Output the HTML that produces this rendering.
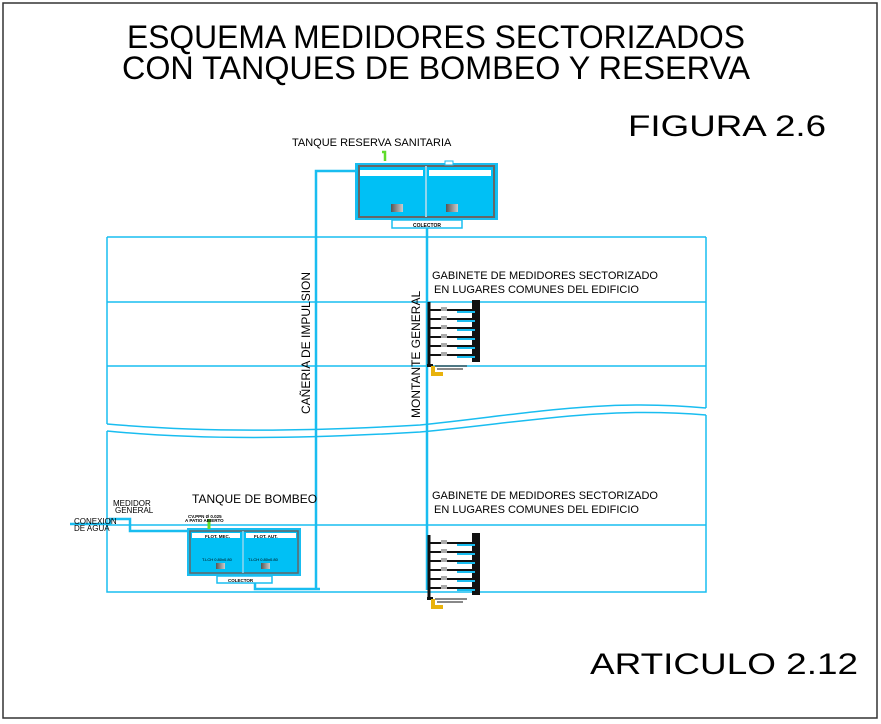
<!DOCTYPE html>
<html><head><meta charset="utf-8"><style>
html,body{margin:0;padding:0;background:#fff;}
svg{display:block;font-family:"Liberation Sans",sans-serif;}
</style></head><body>
<svg width="881" height="724" viewBox="0 0 881 724" xmlns="http://www.w3.org/2000/svg">
<defs>
<linearGradient id="g" x1="0" x2="1"><stop offset="0" stop-color="#555"/><stop offset="1" stop-color="#ccc"/></linearGradient>
<g id="gab">
  <rect x="45" y="-2" width="8" height="62" fill="#111"/>
  <line x1="2" y1="0" x2="2" y2="62" stroke="#111" stroke-width="3"/>
  <g stroke="#111" stroke-width="2">
   <line x1="2" y1="8" x2="48" y2="8"/><line x1="2" y1="17" x2="48" y2="17"/><line x1="2" y1="26" x2="48" y2="26"/>
   <line x1="2" y1="35" x2="48" y2="35"/><line x1="2" y1="44" x2="48" y2="44"/><line x1="2" y1="53" x2="48" y2="53"/>
  </g>
  <g stroke="#19bdf0" stroke-width="2">
   <line x1="30" y1="10" x2="48" y2="10"/><line x1="30" y1="19" x2="48" y2="19"/><line x1="30" y1="28" x2="48" y2="28"/>
   <line x1="30" y1="37" x2="48" y2="37"/><line x1="30" y1="46" x2="48" y2="46"/><line x1="30" y1="55" x2="48" y2="55"/>
  </g>
  <g fill="#aaa"><rect x="14" y="5" width="6" height="4"/><rect x="14" y="14" width="6" height="4"/><rect x="14" y="23" width="6" height="4"/><rect x="14" y="32" width="6" height="4"/><rect x="14" y="41" width="6" height="4"/><rect x="14" y="50" width="6" height="4"/></g>
  <rect x="0" y="62" width="6" height="3" fill="#111"/>
  <path d="M6 64 v8 h10" stroke="#e8b20c" stroke-width="4" fill="none"/>
  <line x1="8" y1="64" x2="40" y2="64" stroke="#111" stroke-width="1"/>
  <line x1="10" y1="67" x2="36" y2="67" stroke="#111" stroke-width="1"/>
</g>
</defs>
<rect x="3" y="3" width="874" height="715" fill="none" stroke="#333" stroke-width="1.5"/>

<text x="127" y="48" font-size="32" textLength="618" lengthAdjust="spacingAndGlyphs">ESQUEMA MEDIDORES SECTORIZADOS</text>
<text x="122" y="79" font-size="32" textLength="628" lengthAdjust="spacingAndGlyphs">CON  TANQUES DE BOMBEO Y RESERVA</text>
<text x="628" y="136" font-size="30" textLength="198" lengthAdjust="spacingAndGlyphs">FIGURA 2.6</text>
<text x="590" y="674" font-size="30" textLength="268" lengthAdjust="spacingAndGlyphs">ARTICULO 2.12</text>

<g stroke="#19bdf0" stroke-width="1.5" fill="none">
  <path d="M107 237 H706 M107 302 H706 M107 366 H706"/>
  <path d="M107 237 V424 M706 237 V408"/>
  <path d="M107 424 C200 432,300 432,420 425 C520 415,600 398,706 408"/>
  <path d="M107 431 C200 440,300 439,420 432 C520 423,600 406,706 415"/>
  <path d="M107 431 V592 H706 V415 M107 525 H706"/>
</g>
<g stroke="#19bdf0" stroke-width="2.5" fill="none">
  <path d="M316 590 V171 H356"/>
  <path d="M427 228 V590"/>
  <path d="M70 524 H110 V519 H130 V531 H200"/>
  <path d="M255 583 V589 H320"/>
</g>

<!-- top tank -->
<rect x="356" y="164" width="141" height="55" fill="#00c0f5" stroke="#19bdf0" stroke-width="2"/>
<rect x="359" y="166" width="135" height="51" fill="none" stroke="#666" stroke-width="2"/>
<line x1="426" y1="166" x2="426" y2="217" stroke="#8fd6ee" stroke-width="2"/>
<rect x="360" y="170" width="63" height="6" fill="#fff"/><rect x="429" y="170" width="62" height="6" fill="#fff"/>
<rect x="391" y="204" width="12" height="8" fill="url(#g)"/><rect x="446" y="204" width="12" height="8" fill="url(#g)"/>
<rect x="392" y="220" width="70" height="8" fill="#fff" stroke="#19bdf0" stroke-width="1.5"/>
<text x="413" y="227" font-size="5" font-weight="bold">COLECTOR</text>
<path d="M382 152 h3 v9" stroke="#5fdc2a" stroke-width="2.5" fill="none"/>
<rect x="445" y="161" width="8" height="4" fill="#fff" stroke="#19bdf0"/>
<text x="292" y="146" font-size="11">TANQUE RESERVA SANITARIA</text>

<!-- bottom tank -->
<rect x="188" y="529" width="112" height="46" fill="#00c0f5" stroke="#19bdf0" stroke-width="2"/>
<rect x="190" y="531" width="108" height="42" fill="none" stroke="#666" stroke-width="1.5"/>
<line x1="243" y1="531" x2="243" y2="573" stroke="#8fd6ee" stroke-width="1.5"/>
<rect x="192" y="533" width="48" height="5" fill="#fff"/><rect x="246" y="533" width="50" height="5" fill="#fff"/>
<text x="205" y="538" font-size="4.5" font-weight="bold">FLOT. MEC.</text>
<text x="254" y="538" font-size="4.5" font-weight="bold">FLOT. AUT.</text>
<text x="202" y="561" font-size="4" fill="#000">T.LCH 0.80x0.80</text>
<text x="248" y="561" font-size="4" fill="#000">T.LCH 0.80x0.80</text>
<rect x="216" y="563" width="9" height="6" fill="url(#g)"/><rect x="261" y="563" width="9" height="6" fill="url(#g)"/>
<rect x="217" y="576" width="55" height="7" fill="#fff" stroke="#19bdf0" stroke-width="1.5"/>
<text x="228" y="582" font-size="4.5" font-weight="bold">COLECTOR</text>
<line x1="209" y1="519" x2="209" y2="529" stroke="#5fdc2a" stroke-width="3"/>
<text x="188" y="518" font-size="4.5" font-weight="bold">CV.PPN Ø 0.025</text>
<text x="185" y="522" font-size="4.5" font-weight="bold">A PATIO ABIERTO</text>
<text x="192" y="503" font-size="12">TANQUE DE BOMBEO</text>
<text x="113" y="506" font-size="8">MEDIDOR</text>
<text x="115" y="513" font-size="8">GENERAL</text>
<text x="74" y="524" font-size="8">CONEXION</text>
<text x="74" y="531" font-size="8">DE AGUA</text>

<!-- vertical labels -->
<text transform="translate(310,414) rotate(-90)" font-size="12">CAÑERIA DE IMPULSION</text>
<text transform="translate(420,418) rotate(-90)" font-size="12">MONTANTE GENERAL</text>

<text x="432" y="279" font-size="11">GABINETE DE MEDIDORES SECTORIZADO</text>
<text x="434" y="293" font-size="11">EN LUGARES COMUNES DEL EDIFICIO</text>
<text x="432" y="499" font-size="11">GABINETE DE MEDIDORES SECTORIZADO</text>
<text x="434" y="513" font-size="11">EN LUGARES COMUNES DEL EDIFICIO</text>

<use href="#gab" x="427" y="302"/>
<use href="#gab" x="427" y="535"/>
</svg>
</body></html>
